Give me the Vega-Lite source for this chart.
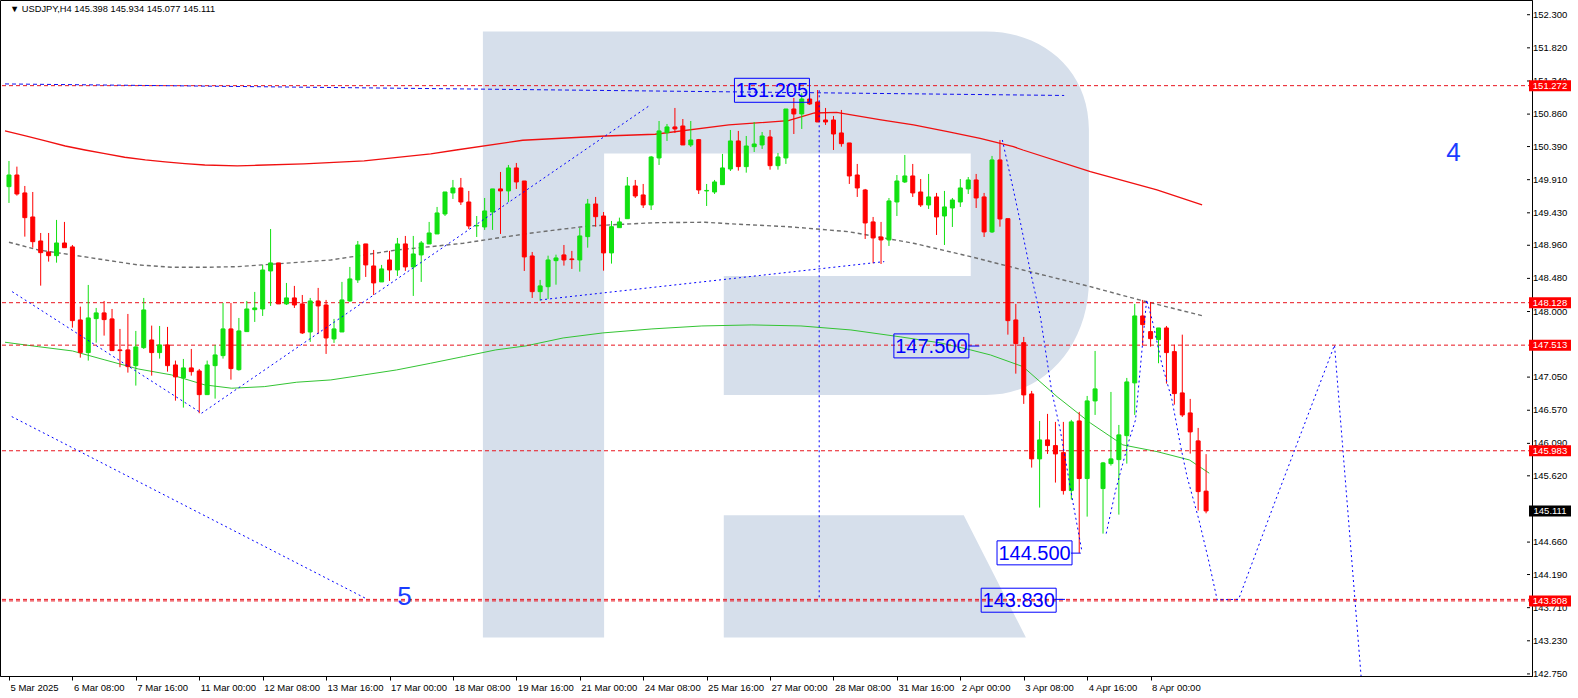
{
"$schema":"https://vega.github.io/schema/vega-lite/v6.json",
"width":1532,"height":676,
"autosize":{"type":"none"},
"padding":{"left":0,"top":0,"right":46,"bottom":22},
"background":"white",
"config":{"view":{"stroke":"black","strokeWidth":1},"font":"Liberation Sans"},
"datasets":{
"bars":[
{"k":0,"o":149.809,"h":150.181,"l":149.573,"c":149.978},
{"k":1,"o":149.978,"h":150.099,"l":149.679,"c":149.703},
{"k":2,"o":149.718,"h":149.819,"l":149.085,"c":149.360},
{"k":3,"o":149.370,"h":149.732,"l":148.925,"c":149.012},
{"k":4,"o":149.022,"h":149.138,"l":148.375,"c":148.853},
{"k":5,"o":148.863,"h":149.138,"l":148.723,"c":148.809},
{"k":6,"o":148.809,"h":149.327,"l":148.708,"c":148.993},
{"k":7,"o":148.993,"h":149.298,"l":148.925,"c":148.925},
{"k":8,"o":148.936,"h":148.964,"l":147.767,"c":147.868},
{"k":9,"o":147.878,"h":148.071,"l":147.332,"c":147.405},
{"k":10,"o":147.405,"h":148.385,"l":147.289,"c":147.907},
{"k":11,"o":147.897,"h":148.052,"l":147.549,"c":147.980},
{"k":12,"o":147.980,"h":148.153,"l":147.651,"c":147.883},
{"k":13,"o":147.893,"h":148.037,"l":147.434,"c":147.434},
{"k":14,"o":147.444,"h":147.748,"l":147.193,"c":147.434},
{"k":15,"o":147.444,"h":147.965,"l":147.115,"c":147.202},
{"k":16,"o":147.216,"h":147.719,"l":146.927,"c":147.487},
{"k":17,"o":147.477,"h":148.197,"l":147.458,"c":148.023},
{"k":18,"o":147.588,"h":147.796,"l":147.071,"c":147.405},
{"k":19,"o":147.405,"h":147.791,"l":147.318,"c":147.516},
{"k":20,"o":147.516,"h":147.777,"l":147.129,"c":147.216},
{"k":21,"o":147.226,"h":147.289,"l":146.709,"c":147.053},
{"k":22,"o":147.038,"h":147.313,"l":146.608,"c":147.183},
{"k":23,"o":147.183,"h":147.458,"l":147.071,"c":147.129},
{"k":24,"o":147.139,"h":147.168,"l":146.527,"c":146.796},
{"k":25,"o":146.796,"h":147.289,"l":146.796,"c":147.226},
{"k":26,"o":147.216,"h":147.516,"l":146.738,"c":147.371},
{"k":27,"o":147.361,"h":148.124,"l":147.318,"c":147.748},
{"k":28,"o":147.748,"h":148.124,"l":147.013,"c":147.173},
{"k":29,"o":147.158,"h":147.907,"l":147.144,"c":147.719},
{"k":30,"o":147.709,"h":148.153,"l":147.709,"c":148.037},
{"k":31,"o":148.027,"h":148.284,"l":147.849,"c":148.052},
{"k":32,"o":148.037,"h":148.675,"l":147.936,"c":148.602},
{"k":33,"o":148.588,"h":149.196,"l":148.081,"c":148.704},
{"k":34,"o":148.704,"h":148.704,"l":148.110,"c":148.110},
{"k":35,"o":148.110,"h":148.414,"l":148.095,"c":148.197},
{"k":36,"o":148.197,"h":148.371,"l":148.052,"c":148.095},
{"k":37,"o":148.110,"h":148.240,"l":147.675,"c":147.690},
{"k":38,"o":147.704,"h":148.197,"l":147.560,"c":148.153},
{"k":39,"o":148.153,"h":148.342,"l":147.675,"c":148.081},
{"k":40,"o":148.095,"h":148.168,"l":147.386,"c":147.617},
{"k":41,"o":147.603,"h":147.893,"l":147.545,"c":147.748},
{"k":42,"o":147.704,"h":148.429,"l":147.704,"c":148.168},
{"k":43,"o":148.153,"h":148.646,"l":148.139,"c":148.472},
{"k":44,"o":148.458,"h":149.022,"l":148.414,"c":148.964},
{"k":45,"o":148.979,"h":148.979,"l":148.501,"c":148.675},
{"k":46,"o":148.660,"h":148.892,"l":148.240,"c":148.414},
{"k":47,"o":148.429,"h":148.675,"l":148.429,"c":148.617},
{"k":48,"o":148.747,"h":148.878,"l":148.443,"c":148.602},
{"k":49,"o":148.602,"h":149.066,"l":148.515,"c":148.979},
{"k":50,"o":148.979,"h":149.095,"l":148.588,"c":148.646},
{"k":51,"o":148.646,"h":149.095,"l":148.226,"c":148.834},
{"k":52,"o":148.820,"h":149.022,"l":148.429,"c":148.993},
{"k":53,"o":148.979,"h":149.298,"l":148.979,"c":149.138},
{"k":54,"o":149.124,"h":149.515,"l":149.124,"c":149.428},
{"k":55,"o":149.413,"h":149.732,"l":149.384,"c":149.732},
{"k":56,"o":149.718,"h":149.906,"l":149.631,"c":149.790},
{"k":57,"o":149.790,"h":149.935,"l":149.544,"c":149.587},
{"k":58,"o":149.587,"h":149.747,"l":149.196,"c":149.240},
{"k":59,"o":149.240,"h":149.384,"l":149.080,"c":149.247},
{"k":60,"o":149.225,"h":149.645,"l":149.182,"c":149.457},
{"k":61,"o":149.442,"h":149.776,"l":149.182,"c":149.776},
{"k":62,"o":149.776,"h":150.022,"l":149.124,"c":149.747},
{"k":63,"o":149.747,"h":150.123,"l":149.587,"c":150.080},
{"k":64,"o":150.080,"h":150.152,"l":149.776,"c":149.877},
{"k":65,"o":149.891,"h":149.891,"l":148.588,"c":148.791},
{"k":66,"o":148.805,"h":148.863,"l":148.197,"c":148.288},
{"k":67,"o":148.288,"h":148.458,"l":148.158,"c":148.371},
{"k":68,"o":148.360,"h":148.809,"l":148.182,"c":148.747},
{"k":69,"o":148.737,"h":148.824,"l":148.389,"c":148.776},
{"k":70,"o":148.820,"h":148.964,"l":148.665,"c":148.747},
{"k":71,"o":148.762,"h":148.878,"l":148.617,"c":148.752},
{"k":72,"o":148.747,"h":149.211,"l":148.578,"c":149.095},
{"k":73,"o":149.085,"h":149.631,"l":148.925,"c":149.558},
{"k":74,"o":149.558,"h":149.660,"l":149.229,"c":149.374},
{"k":75,"o":149.384,"h":149.442,"l":148.592,"c":148.849},
{"k":76,"o":148.849,"h":149.312,"l":148.694,"c":149.229},
{"k":77,"o":149.215,"h":149.360,"l":149.215,"c":149.298},
{"k":78,"o":149.345,"h":149.949,"l":149.345,"c":149.819},
{"k":79,"o":149.819,"h":149.906,"l":149.645,"c":149.674},
{"k":80,"o":149.689,"h":149.848,"l":149.500,"c":149.544},
{"k":81,"o":149.544,"h":150.254,"l":149.471,"c":150.239},
{"k":82,"o":150.225,"h":150.760,"l":150.123,"c":150.616},
{"k":83,"o":150.591,"h":150.717,"l":150.471,"c":150.674},
{"k":84,"o":150.674,"h":150.949,"l":150.587,"c":150.645},
{"k":85,"o":150.688,"h":150.789,"l":150.413,"c":150.413},
{"k":86,"o":150.413,"h":150.760,"l":150.384,"c":150.485},
{"k":87,"o":150.490,"h":150.500,"l":149.703,"c":149.761},
{"k":88,"o":149.747,"h":149.848,"l":149.529,"c":149.754},
{"k":89,"o":149.732,"h":149.906,"l":149.703,"c":149.877},
{"k":90,"o":149.838,"h":150.283,"l":149.838,"c":150.080},
{"k":91,"o":150.065,"h":150.630,"l":150.036,"c":150.471},
{"k":92,"o":150.471,"h":150.616,"l":150.041,"c":150.099},
{"k":93,"o":150.099,"h":150.543,"l":150.012,"c":150.398},
{"k":94,"o":150.388,"h":150.746,"l":150.311,"c":150.427},
{"k":95,"o":150.413,"h":150.601,"l":150.355,"c":150.543},
{"k":96,"o":150.529,"h":150.630,"l":150.055,"c":150.113},
{"k":97,"o":150.113,"h":150.297,"l":150.055,"c":150.239},
{"k":98,"o":150.225,"h":150.934,"l":150.138,"c":150.934},
{"k":99,"o":150.934,"h":151.094,"l":150.572,"c":150.862},
{"k":100,"o":150.862,"h":151.162,"l":150.645,"c":151.079},
{"k":101,"o":151.079,"h":151.152,"l":150.992,"c":151.007},
{"k":102,"o":151.036,"h":151.209,"l":150.746,"c":150.746},
{"k":103,"o":150.775,"h":150.949,"l":150.703,"c":150.746},
{"k":104,"o":150.775,"h":150.833,"l":150.340,"c":150.572},
{"k":105,"o":150.587,"h":150.920,"l":150.388,"c":150.432},
{"k":106,"o":150.442,"h":150.442,"l":149.848,"c":149.964},
{"k":107,"o":149.978,"h":150.138,"l":149.660,"c":149.790},
{"k":108,"o":149.761,"h":149.776,"l":149.051,"c":149.283},
{"k":109,"o":149.298,"h":149.370,"l":148.699,"c":149.066},
{"k":110,"o":149.080,"h":149.298,"l":148.689,"c":149.037},
{"k":111,"o":149.037,"h":149.645,"l":148.950,"c":149.602},
{"k":112,"o":149.587,"h":149.978,"l":149.384,"c":149.891},
{"k":113,"o":149.877,"h":150.268,"l":149.862,"c":149.964},
{"k":114,"o":149.964,"h":150.138,"l":149.660,"c":149.718},
{"k":115,"o":149.732,"h":149.920,"l":149.515,"c":149.544},
{"k":116,"o":149.544,"h":149.993,"l":149.486,"c":149.660},
{"k":117,"o":149.660,"h":149.718,"l":149.109,"c":149.370},
{"k":118,"o":149.384,"h":149.747,"l":148.964,"c":149.515},
{"k":119,"o":149.500,"h":149.645,"l":149.225,"c":149.616},
{"k":120,"o":149.587,"h":149.920,"l":149.515,"c":149.790},
{"k":121,"o":149.776,"h":149.949,"l":149.703,"c":149.906},
{"k":122,"o":149.906,"h":149.993,"l":149.500,"c":149.645},
{"k":123,"o":149.660,"h":149.718,"l":149.080,"c":149.153},
{"k":124,"o":149.153,"h":150.254,"l":149.138,"c":150.196},
{"k":125,"o":150.196,"h":150.485,"l":149.229,"c":149.341},
{"k":126,"o":149.345,"h":149.345,"l":147.665,"c":147.868},
{"k":127,"o":147.878,"h":148.110,"l":147.100,"c":147.535},
{"k":128,"o":147.549,"h":147.632,"l":146.662,"c":146.792},
{"k":129,"o":146.806,"h":146.850,"l":145.739,"c":145.865},
{"k":130,"o":145.865,"h":146.415,"l":145.160,"c":146.140},
{"k":131,"o":146.140,"h":146.517,"l":145.937,"c":146.058},
{"k":132,"o":146.058,"h":146.401,"l":145.522,"c":145.937},
{"k":133,"o":145.956,"h":146.401,"l":145.348,"c":145.406},
{"k":134,"o":145.406,"h":146.430,"l":145.275,"c":146.401},
{"k":135,"o":146.415,"h":146.546,"l":144.500,"c":145.580},
{"k":136,"o":145.580,"h":146.777,"l":145.029,"c":146.705},
{"k":137,"o":146.705,"h":147.429,"l":146.502,"c":146.879},
{"k":138,"o":145.435,"h":145.821,"l":144.783,"c":145.807},
{"k":139,"o":145.797,"h":146.835,"l":145.768,"c":145.865},
{"k":140,"o":145.855,"h":146.357,"l":145.058,"c":146.213},
{"k":141,"o":146.202,"h":147.038,"l":145.797,"c":146.980},
{"k":142,"o":146.966,"h":148.110,"l":146.502,"c":147.936},
{"k":143,"o":147.936,"h":148.168,"l":147.506,"c":147.810},
{"k":144,"o":147.709,"h":148.139,"l":147.491,"c":147.607},
{"k":145,"o":147.593,"h":147.762,"l":147.251,"c":147.762},
{"k":146,"o":147.762,"h":147.791,"l":146.956,"c":147.405},
{"k":147,"o":147.419,"h":147.520,"l":146.651,"c":146.811},
{"k":148,"o":146.821,"h":147.665,"l":146.473,"c":146.502},
{"k":149,"o":146.531,"h":146.734,"l":145.942,"c":146.256},
{"k":150,"o":146.126,"h":146.314,"l":145.116,"c":145.391},
{"k":151,"o":145.398,"h":145.934,"l":145.077,"c":145.111}
],
"maRed":[
{"k":-0.5,"p":150.616},{"k":2.1,"p":150.543},{"k":4.6,"p":150.471},{"k":7.1,"p":150.398},{"k":9.6,"p":150.340},{"k":12.1,"p":150.287},{"k":14.6,"p":150.235},{"k":17.2,"p":150.196},{"k":19.7,"p":150.167},{"k":22.2,"p":150.142},{"k":24.7,"p":150.123},{"k":28.8,"p":150.109},{"k":31.3,"p":150.119},{"k":37.2,"p":150.138},{"k":44.8,"p":150.181},{"k":53.2,"p":150.283},{"k":56.4,"p":150.340},{"k":64.8,"p":150.481},{"k":75.2,"p":150.543},{"k":81.5,"p":150.568},{"k":90.8,"p":150.703},{"k":98.3,"p":150.765},{"k":101.6,"p":150.876},{"k":104.4,"p":150.886},{"k":110.0,"p":150.775},{"k":114.1,"p":150.703},{"k":118.4,"p":150.606},{"k":122.5,"p":150.510},{"k":126.7,"p":150.388},{"k":127.9,"p":150.340},{"k":136.4,"p":150.026},{"k":144.8,"p":149.761},{"k":150.5,"p":149.544}
],
"maGray":[
{"k":0,"p":149.004},{"k":3.7,"p":148.892},{"k":8.0,"p":148.820},{"k":12.1,"p":148.747},{"k":16.3,"p":148.675},{"k":20.5,"p":148.641},{"k":24.7,"p":148.641},{"k":28.8,"p":148.650},{"k":33.1,"p":148.685},{"k":40.6,"p":148.747},{"k":44.8,"p":148.820},{"k":48.9,"p":148.892},{"k":53.2,"p":148.940},{"k":57.3,"p":148.989},{"k":61.4,"p":149.061},{"k":65.7,"p":149.134},{"k":69.0,"p":149.182},{"k":73.2,"p":149.240},{"k":77.4,"p":149.264},{"k":81.5,"p":149.287},{"k":87.8,"p":149.293},{"k":92.1,"p":149.264},{"k":98.3,"p":149.229},{"k":105.9,"p":149.157},{"k":114.1,"p":148.989},{"k":121.3,"p":148.795},{"k":127.9,"p":148.602},{"k":136.4,"p":148.360},{"k":142.6,"p":148.168},{"k":150.5,"p":147.940}
],
"maGreen":[
{"k":-0.5,"p":147.555},{"k":3.7,"p":147.491},{"k":8.0,"p":147.429},{"k":12.1,"p":147.299},{"k":16.3,"p":147.168},{"k":20.5,"p":147.082},{"k":24.7,"p":146.937},{"k":28.1,"p":146.889},{"k":32.2,"p":146.912},{"k":36.3,"p":146.976},{"k":40.6,"p":147.009},{"k":44.8,"p":147.082},{"k":48.9,"p":147.154},{"k":53.2,"p":147.251},{"k":57.3,"p":147.347},{"k":61.4,"p":147.444},{"k":65.2,"p":147.502},{"k":69.9,"p":147.617},{"k":74.9,"p":147.690},{"k":81.1,"p":147.748},{"k":87.4,"p":147.791},{"k":93.7,"p":147.806},{"k":99.9,"p":147.791},{"k":106.2,"p":147.733},{"k":112.5,"p":147.632},{"k":117.5,"p":147.545},{"k":121.3,"p":147.444},{"k":123.8,"p":147.371},{"k":127.9,"p":147.202},{"k":132.2,"p":146.767},{"k":136.4,"p":146.386},{"k":140.5,"p":146.068},{"k":144.8,"p":145.971},{"k":148.9,"p":145.850},{"k":151.4,"p":145.658}
],
"levels":[{"p":151.272},{"p":148.128},{"p":147.513},{"p":145.983},{"p":143.808},{"p":143.830}],
"yticks":[{"v":152.3},{"v":151.82},{"v":151.34},{"v":150.86},{"v":150.39},{"v":149.91},{"v":149.43},{"v":148.96},{"v":148.48},{"v":148.0},{"v":147.05},{"v":146.57},{"v":146.09},{"v":145.62},{"v":144.66},{"v":144.19},{"v":143.71},{"v":143.23},{"v":142.75}],
"tags":[{"p":151.272,"t":"151.272"},{"p":148.128,"t":"148.128"},{"p":147.513,"t":"147.513"},{"p":145.983,"t":"145.983"},{"p":143.808,"t":"143.808"}],
"last":[{"p":145.111,"t":"145.111"}],
"paths":[
{"g":"ab","k":0.4,"p":148.288},{"g":"ab","k":24.3,"p":146.527},{"g":"ab","k":80.9,"p":150.992},
{"g":"c","k":0.35,"p":146.478},{"g":"c","k":44.9,"p":143.85},
{"g":"d","k":67.0,"p":148.168},{"g":"d","k":110.4,"p":148.723},
{"g":"f","k":125.3,"p":150.485},{"g":"f","k":126.7,"p":149.761},{"g":"f","k":127.6,"p":149.279},{"g":"f","k":128.8,"p":148.602},{"g":"f","k":130.1,"p":147.926},{"g":"f","k":131.5,"p":146.864},{"g":"f","k":132.6,"p":146.285},{"g":"f","k":134.3,"p":145.174},{"g":"f","k":135.3,"p":144.55},
{"g":"h","k":138.4,"p":144.783},{"g":"h","k":139.6,"p":145.416},{"g":"h","k":141.3,"p":146.140},{"g":"h","k":142.1,"p":146.430},{"g":"h","k":143.5,"p":148.168},{"g":"h","k":144.2,"p":147.878},{"g":"h","k":145.4,"p":147.251},{"g":"h","k":146.7,"p":146.719},{"g":"h","k":147.8,"p":146.043},{"g":"h","k":148.6,"p":145.608},{"g":"h","k":150.1,"p":144.981},{"g":"h","k":151.3,"p":144.402},{"g":"h","k":152.4,"p":143.823},{"g":"h","k":155.1,"p":143.83},{"g":"h","k":159.7,"p":145.247},{"g":"h","k":167.2,"p":147.513},{"g":"h","k":170.55,"p":142.72}
],
"topLine":[{"k":-0.5,"p":151.297},{"k":133.1,"p":151.13}],
"vline":[{"k":102.2,"p1":151.205,"p2":143.83}],
"logo":[{"k":98.0,"p":147.668}],
"boxes":[{"t":"151.205","k":96.24,"p":151.205},{"t":"147.500","k":116.35,"p":147.502},{"t":"144.500","k":129.36,"p":144.504},{"t":"143.830","k":127.36,"p":143.818}],
"ticks":[{"k1":121.05,"k2":122.4,"p":147.5},{"k1":133.96,"k2":135.2,"p":144.5},{"k1":131.95,"k2":133.2,"p":143.83}],
"waves":[{"t":"4","k":182.2,"p":150.297},{"t":"5","k":49.9,"p":143.87}],
"head":[{"t":"▼ USDJPY,H4  145.398 145.934 145.077 145.111"}]
},
"layer":[
{"data":{"name":"logo"},"mark":{"type":"point","filled":true,"opacity":1,"fill":"#d6dfeb","strokeWidth":0,"size":367236,
  "shape":"M-1,1L-1,-1L0.66,-1C0.85,-1,1,-0.87,1,-0.677L1,-0.18C1,0.03,0.86,0.2,0.66,0.2L-0.205,0.2L-0.205,-0.193L0.61,-0.193L0.61,-0.597L-0.6,-0.597L-0.6,1Z M-0.205,0.597L0.587,0.597L0.792,1L-0.205,1Z"},
 "encoding":{"x":{"field":"k","type":"quantitative","scale":{"domain":[-0.501,191.48],"nice":false,"zero":false},
   "axis":{"orient":"bottom","values":[0,8,16,24,32,40,48,56,64,72,80,88,96,104,112,120,128,136,144],
    "labelExpr":"['5 Mar 2025','6 Mar 08:00','7 Mar 16:00','11 Mar 00:00','12 Mar 08:00','13 Mar 16:00','17 Mar 00:00','18 Mar 08:00','19 Mar 16:00','21 Mar 00:00','24 Mar 08:00','25 Mar 16:00','27 Mar 00:00','28 Mar 08:00','31 Mar 16:00','2 Apr 00:00','3 Apr 08:00','4 Apr 16:00','8 Apr 00:00'][round(datum.value/8)]",
    "title":null,"grid":false,"domainColor":"black","tickColor":"black","tickSize":4,"labelAlign":"left","labelOffset":1,"labelPadding":2,"labelFontSize":9.5,"labelColor":"black","labelFont":"Liberation Sans","labelFlush":false,"labelOverlap":false}},
  "y":{"field":"p","type":"quantitative","scale":{"domain":[142.72,152.513],"nice":false,"zero":false},
   "axis":{"orient":"right","labels":false,"ticks":false,"title":null,"grid":false,"domainColor":"black"}}}},
{"data":{"name":"maGreen"},"mark":{"type":"line","color":"#33c433","strokeWidth":1},
 "encoding":{"x":{"field":"k","type":"quantitative"},"y":{"field":"p","type":"quantitative"}}},
{"data":{"name":"maGray"},"mark":{"type":"line","color":"#6e6e6e","strokeWidth":1.4,"strokeDash":[4,3]},
 "encoding":{"x":{"field":"k","type":"quantitative"},"y":{"field":"p","type":"quantitative"}}},
{"data":{"name":"maRed"},"mark":{"type":"line","color":"#f01010","strokeWidth":1.3},
 "encoding":{"x":{"field":"k","type":"quantitative"},"y":{"field":"p","type":"quantitative"}}},
{"data":{"name":"levels"},"mark":{"type":"rule","color":"#e8141e","strokeWidth":1,"strokeDash":[4,3]},
 "encoding":{"y":{"field":"p","type":"quantitative"}}},
{"data":{"name":"topLine"},"mark":{"type":"line","color":"#1010ee","strokeWidth":1,"strokeDash":[4,3]},
 "encoding":{"x":{"field":"k","type":"quantitative"},"y":{"field":"p","type":"quantitative"}}},
{"data":{"name":"bars"},"mark":{"type":"rule","strokeWidth":1},
 "encoding":{"x":{"field":"k","type":"quantitative"},"y":{"field":"l","type":"quantitative"},"y2":{"field":"h"},
  "color":{"condition":{"test":"datum.c >= datum.o","value":"#11e011"},"value":"#ff0000"}}},
{"data":{"name":"bars"},"mark":{"type":"bar","size":4,"strokeWidth":1},
 "encoding":{"x":{"field":"k","type":"quantitative"},"y":{"field":"o","type":"quantitative"},"y2":{"field":"c"},
  "fill":{"condition":{"test":"datum.c >= datum.o","value":"#11e011"},"value":"#ff0000"},
  "stroke":{"condition":{"test":"datum.c >= datum.o","value":"#11e011"},"value":"#ff0000"}}},
{"data":{"name":"paths"},"mark":{"type":"line","color":"#0000ff","strokeWidth":1,"strokeDash":[2,3],"clip":true},
 "encoding":{"x":{"field":"k","type":"quantitative"},"y":{"field":"p","type":"quantitative"},"detail":{"field":"g"}}},
{"data":{"name":"vline"},"mark":{"type":"rule","color":"#0000ff","strokeWidth":1,"strokeDash":[2,3]},
 "encoding":{"x":{"field":"k","type":"quantitative"},"y":{"field":"p1","type":"quantitative"},"y2":{"field":"p2"}}},
{"data":{"name":"ticks"},"mark":{"type":"rule","color":"#0000ff","strokeWidth":1},
 "encoding":{"x":{"field":"k1","type":"quantitative"},"x2":{"field":"k2"},"y":{"field":"p","type":"quantitative"}}},
{"data":{"name":"boxes"},"mark":{"type":"rect","width":75,"height":24,"fill":null,"fillOpacity":0,"stroke":"#0000ff","strokeWidth":1},
 "encoding":{"x":{"field":"k","type":"quantitative"},"y":{"field":"p","type":"quantitative"}}},
{"data":{"name":"boxes"},"mark":{"type":"text","color":"#0000ff","fontSize":20,"font":"Liberation Sans","align":"center","baseline":"middle","dy":1},
 "encoding":{"x":{"field":"k","type":"quantitative"},"y":{"field":"p","type":"quantitative"},"text":{"field":"t"}}},
{"data":{"name":"waves"},"mark":{"type":"text","color":"#1a3cff","fontSize":26,"font":"Liberation Sans","align":"center","baseline":"middle"},
 "encoding":{"x":{"field":"k","type":"quantitative"},"y":{"field":"p","type":"quantitative"},"text":{"field":"t"}}},
{"data":{"name":"yticks"},"mark":{"type":"rule","color":"black","strokeWidth":1},
 "encoding":{"x":{"datum":191.48,"type":"quantitative"},"x2":{"datum":191.86},"y":{"field":"v","type":"quantitative"}}},
{"data":{"name":"yticks"},"mark":{"type":"text","color":"black","fontSize":9.5,"font":"Liberation Sans","align":"left","baseline":"middle","dx":6},
 "encoding":{"x":{"datum":191.48,"type":"quantitative"},"y":{"field":"v","type":"quantitative"},"text":{"field":"v","type":"quantitative","format":".3f"}}},
{"data":{"name":"tags"},"mark":{"type":"rect","width":42,"height":11,"color":"#ff0000","xOffset":23},
 "encoding":{"x":{"datum":191.48,"type":"quantitative"},"y":{"field":"p","type":"quantitative"}}},
{"data":{"name":"last"},"mark":{"type":"rect","width":42,"height":11,"color":"#000000","xOffset":23},
 "encoding":{"x":{"datum":191.48,"type":"quantitative"},"y":{"field":"p","type":"quantitative"}}},
{"data":{"name":"tags"},"mark":{"type":"text","color":"white","fontSize":9.5,"font":"Liberation Sans","align":"center","baseline":"middle","dx":23},
 "encoding":{"x":{"datum":191.48,"type":"quantitative"},"y":{"field":"p","type":"quantitative"},"text":{"field":"t"}}},
{"data":{"name":"last"},"mark":{"type":"text","color":"white","fontSize":9.5,"font":"Liberation Sans","align":"center","baseline":"middle","dx":23},
 "encoding":{"x":{"datum":191.48,"type":"quantitative"},"y":{"field":"p","type":"quantitative"},"text":{"field":"t"}}},
{"data":{"name":"head"},"mark":{"type":"text","color":"black","fontSize":9.3,"font":"Liberation Sans","align":"left","baseline":"top","dx":5,"dy":5},
 "encoding":{"x":{"datum":-0.501,"type":"quantitative"},"y":{"datum":152.513,"type":"quantitative"},"text":{"field":"t"}}}
]
}
